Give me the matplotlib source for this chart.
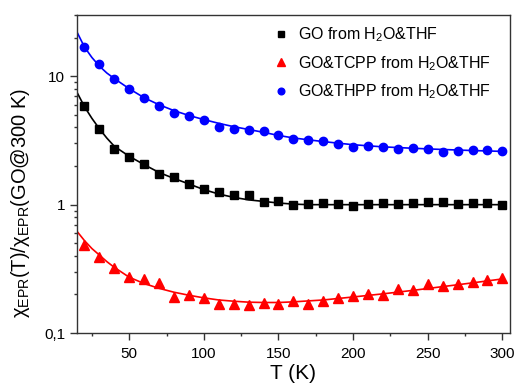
import matplotlib
matplotlib.use("Agg")
import matplotlib.pyplot as plt
from matplotlib.ticker import FixedLocator, LogLocator, NullFormatter, FuncFormatter

plt.rcParams['font.family'] = ['Liberation Sans', 'DejaVu Sans']
plt.rcParams['mathtext.fontset'] = 'custom'
plt.rcParams['mathtext.rm'] = 'Liberation Sans'
plt.rcParams['mathtext.it'] = 'Liberation Sans:italic'
plt.rcParams['mathtext.bf'] = 'Liberation Sans:bold'

# measured points (T in K)
T = [20, 30, 40, 50, 60, 70, 80, 90, 100, 110, 120, 130, 140, 150, 160,
     170, 180, 190, 200, 210, 220, 230, 240, 250, 260, 270, 280, 290, 300]

go = [5.85, 3.87, 2.69, 2.37, 2.06, 1.73, 1.64, 1.45, 1.33, 1.25, 1.19, 1.20,
      1.04, 1.07, 0.99, 1.02, 1.03, 1.02, 0.97, 1.02, 1.03, 1.02, 1.03, 1.05,
      1.05, 1.01, 1.03, 1.03, 1.00]

tcpp = [0.485, 0.39, 0.32, 0.275, 0.266, 0.247, 0.192, 0.197, 0.186, 0.167,
        0.169, 0.166, 0.171, 0.167, 0.179, 0.169, 0.177, 0.187, 0.196, 0.202,
        0.199, 0.221, 0.217, 0.241, 0.233, 0.241, 0.249, 0.259, 0.267]

thpp = [16.9, 12.4, 9.5, 8.0, 6.8, 5.9, 5.2, 4.9, 4.6, 4.0, 3.87, 3.8, 3.72,
        3.48, 3.27, 3.18, 3.12, 2.96, 2.82, 2.87, 2.82, 2.70, 2.74, 2.70, 2.56,
        2.61, 2.65, 2.65, 2.61]

# fitted curves
T_fit = [15, 20, 25, 30, 35, 40, 50, 60, 70, 80, 90, 100, 110, 120, 130, 140,
         150, 160, 170, 180, 200, 220, 240, 260, 280, 300]
go_fit = [7.5, 5.8, 4.7, 3.9, 3.3, 2.85, 2.38, 2.05, 1.78, 1.6, 1.45, 1.31,
          1.21, 1.14, 1.09, 1.06, 1.03, 1.01, 1.0, 1.0, 1.0, 1.0, 1.0, 1.0,
          1.0, 1.0]
tcpp_fit = [0.62, 0.525, 0.455, 0.405, 0.36, 0.325, 0.272, 0.243, 0.223, 0.208,
            0.197, 0.188, 0.181, 0.177, 0.174, 0.173, 0.173, 0.175, 0.178,
            0.181, 0.191, 0.202, 0.215, 0.230, 0.246, 0.264]
thpp_fit = [22.1, 16.9, 14.0, 12.0, 10.6, 9.6, 8.0, 6.8, 6.0, 5.4, 4.95, 4.6,
            4.3, 4.05, 3.85, 3.66, 3.46, 3.31, 3.2, 3.1, 2.93, 2.82, 2.75,
            2.69, 2.64, 2.6]

fig = plt.figure(figsize=(5.15, 3.9), dpi=100)
ax = fig.add_axes([0.1495, 0.146, 0.8405, 0.8155])

ax.plot(T_fit, go_fit, color='black', lw=1.2)
ax.plot(T_fit, tcpp_fit, color='red', lw=1.2)
ax.plot(T_fit, thpp_fit, color='blue', lw=1.2)

ax.plot(T, go, 's', color='black', ms=5.5, label='GO from H$_2$O&THF')
ax.plot(T, tcpp, '^', color='red', ms=6.5, label='GO&TCPP from H$_2$O&THF')
ax.plot(T, thpp, 'o', color='blue', ms=6, label='GO&THPP from H$_2$O&THF')

ax.set_yscale('log')
ax.set_xlim(15, 305)
ax.set_ylim(0.1, 30)

ax.xaxis.set_major_locator(FixedLocator([50, 100, 150, 200, 250, 300]))
ax.xaxis.set_minor_locator(FixedLocator([25, 75, 125, 175, 225, 275]))
ax.yaxis.set_major_locator(FixedLocator([0.1, 1, 10]))
ax.yaxis.set_minor_locator(LogLocator(base=10, subs=range(2, 10)))
ax.yaxis.set_minor_formatter(NullFormatter())
ax.yaxis.set_major_formatter(FuncFormatter(lambda v, p: {0.1: '0,1', 1: '1', 10: '10'}.get(round(v, 3), '')))

ax.tick_params(which='major', direction='out', length=5, width=1, labelsize=11, color='#333333')
ax.tick_params(which='minor', direction='out', length=2.5, width=1, color='#333333')
ax.tick_params(axis='x', pad=5)
for s in ax.spines.values():
    s.set_color('#333333')
    s.set_linewidth(1)

ax.set_xlabel('T (K)', fontsize=15, labelpad=2)
ax.set_ylabel(r'$\mathregular{\chi_{EPR}(T)/\chi_{EPR}(GO@300\ K)}$', fontsize=14.5, labelpad=4)
ax.yaxis.set_label_coords(-0.105, 0.41)

leg = ax.legend(loc='upper left', bbox_to_anchor=(0.415, 1.012), frameon=False,
                fontsize=11.5, handletextpad=0.5, labelspacing=0.6,
                handlelength=1.2, numpoints=1, markerscale=0.8)

fig.savefig('out.png', dpi=100)
